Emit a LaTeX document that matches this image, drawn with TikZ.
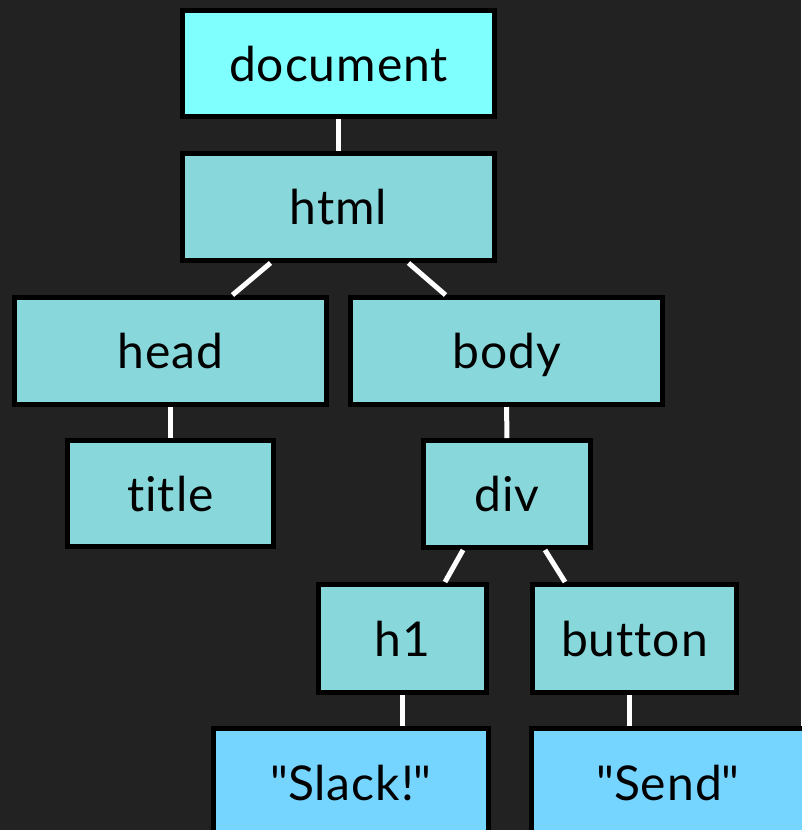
\documentclass[tikz,border=0pt]{standalone}
\usepackage{fontspec}
\setmainfont{Lato}[Ligatures={TeX,NoCommon},LetterSpace=2]
\usepackage{xcolor}
\usetikzlibrary{positioning,calc}
\definecolor{bgdark}{HTML}{222222}
\definecolor{docfill}{HTML}{80FFFF}
\definecolor{tagfill}{HTML}{88D8DB}
\definecolor{txtfill}{HTML}{75D5FF}

\begin{document}
\begin{tikzpicture}[x=1pt,y=-1pt,
		tagbox/.style={rectangle,draw=black,line width=5pt,fill=tagfill,inner sep=0pt,
			minimum height=107pt,text height=35pt,text depth=0pt,font=\fontsize{48}{58}\selectfont},
		link/.style={white,line width=5pt}]
		\fill[bgdark] (0,0) rectangle (801,830);
		\useasboundingbox (0,0) rectangle (801,830);
		% tree nodes
		\node[tagbox,fill=docfill,minimum width=312pt,minimum height=106pt] (document) at (338.5,63.5) {document};
		\node[tagbox,minimum width=312pt] (html) at (338.5,207) {html};
		\node[tagbox,minimum width=312pt] (head) at (170.5,351) {head};
		\node[tagbox,minimum width=312pt] (body) at (506.5,351) {body};
		\node[tagbox,minimum width=206pt,minimum height=106pt] (title) at (170.5,493.5) {title};
		\node[tagbox,minimum width=167pt] (div) at (507,494) {div};
		\node[tagbox,minimum width=168pt,minimum height=108pt] (h1) at (402.5,638.5) {h1};
		\node[tagbox,minimum width=204pt,minimum height=108pt] (button) at (634.5,638.5) {button};
		\node[tagbox,fill=txtfill,minimum width=275pt,minimum height=108pt] (slack) at (351,782.5) {\textquotedbl Slack!\textquotedbl};
		\node[tagbox,fill=txtfill,minimum width=273pt,minimum height=108pt] (send) at (668,782.5) {\textquotedbl Send\textquotedbl};
		% connectors
		\draw[link] (document) -- (html);
		\draw[link] ([xshift=-68pt]html.south) -- ([xshift=62pt]head.north);
		\draw[link] ([xshift=70pt]html.south) -- ([xshift=-61pt]body.north);
		\draw[link] (head) -- (title);
		\draw[link] (body) -- (div);
		\draw[link] ([xshift=-44pt]div.south) -- ([xshift=42.5pt]h1.north);
		\draw[link] ([xshift=38pt]div.south) -- ([xshift=-69.5pt]button.north);
		\draw[link] (h1.south) -- (h1.south |- slack.north);
		\draw[link] ([xshift=-5pt]button.south) -- ([xshift=-5pt]button.south |- send.north);
	\end{tikzpicture}
\end{document}
